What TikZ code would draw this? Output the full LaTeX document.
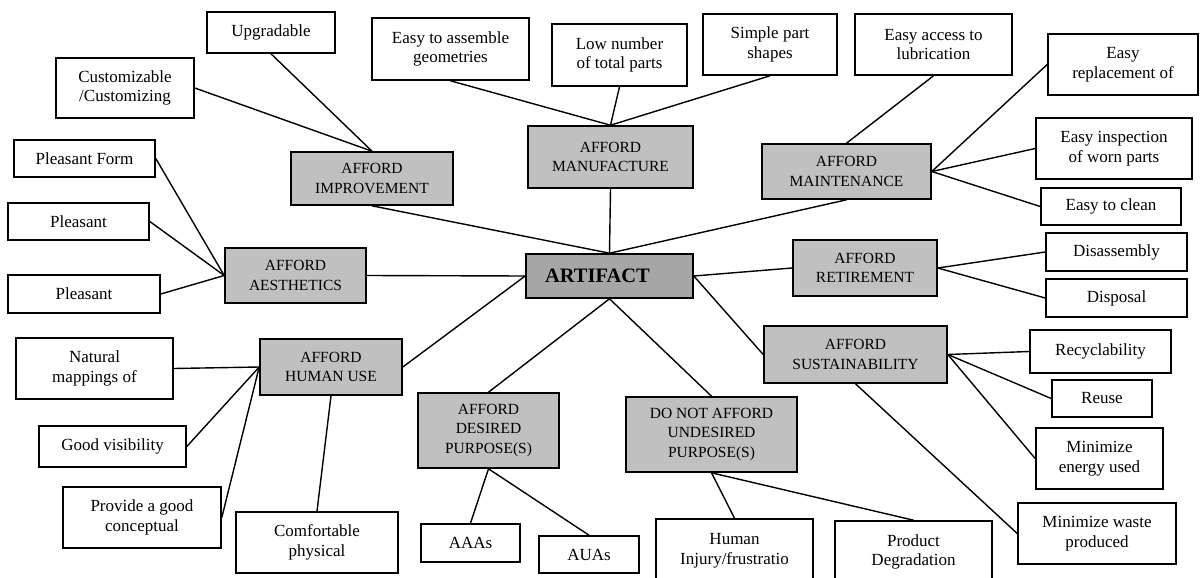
\documentclass[tikz,border=0pt]{standalone}
\usepackage{fontspec}
\setmainfont{Liberation Serif}
\definecolor{boxgray}{HTML}{C0C0C0}
\definecolor{artgray}{HTML}{A6A6A6}
\tikzset{
  sz/.style 2 args={minimum width=#1pt, minimum height=#2pt},
  wbox/.style={draw=black, line width=1.6pt, fill=white, inner sep=0pt, align=center,
    font=\fontsize{17}{19.5}\selectfont},
  gbox/.style={draw=black, line width=1.6pt, fill=boxgray, inner sep=0pt, align=center,
    font=\fontsize{15.5}{19.5}\selectfont},
  abox/.style={draw=black, line width=1.6pt, fill=artgray, inner sep=0pt, align=center,
    font=\fontsize{20.5}{22}\selectfont\bfseries},
  link/.style={line width=1.4pt, draw=black},
}
\begin{document}
\begin{tikzpicture}[x=1pt,y=-1pt]
\useasboundingbox (0,0) rectangle (1200,578);
\fill[white] (0,0) rectangle (1200,578);

% central node
\node[abox, sz={167}{44}] (art) at (609.5,276) {ARTIFACT\hspace{24pt}};

% gray category nodes
\node[gbox, sz={162}{53}] (impr) at (372,178.5) {AFFORD\\IMPROVEMENT};
\node[gbox, sz={165}{62}] (manu) at (610.5,157) {AFFORD\\MANUFACTURE};
\node[gbox, sz={169}{55}] (maint) at (846.5,171.5) {AFFORD\\MAINTENANCE};
\node[gbox, sz={141}{55}] (aest) at (295.5,275.5) {AFFORD\\AESTHETICS};
\node[gbox, sz={144}{56}] (retire) at (865,268) {AFFORD\\RETIREMENT};
\node[gbox, sz={183}{57}] (sust) at (855.5,354.5) {AFFORD\\SUSTAINABILITY};
\node[gbox, sz={142}{56}] (human) at (331,367) {AFFORD\\HUMAN USE};
\node[gbox, sz={141}{75}] (desired) at (488.5,430.5) {AFFORD\\DESIRED\\PURPOSE(S)};
\node[gbox, sz={171}{75}] (donot) at (711.5,434.5) {DO NOT AFFORD\\UNDESIRED\\PURPOSE(S)};

% white leaf nodes
\node[wbox, sz={128}{41}] (upg) at (271,32.5) {Upgradable};
\node[wbox, sz={138}{60}] (cust) at (125,88) {Customizable\\/Customizing};
\node[wbox, sz={141}{37}] (pform) at (84.5,158.5) {Pleasant Form};
\node[wbox, sz={141}{37}] (pl1) at (78.5,221.5) {Pleasant};
\node[wbox, sz={152}{38}] (pl2) at (84,294) {Pleasant};
\node[wbox, sz={157}{61}] (nat) at (94.5,368.5) {Natural\\mappings of};
\node[wbox, sz={147}{41}] (vis) at (112.5,446.5) {Good visibility};
\node[wbox, sz={158}{61}] (prov) at (142,517.5) {Provide a good\\conceptual};
\node[wbox, sz={162}{61}] (comf) at (317,542.5) {Comfortable\\physical};
\node[wbox, sz={99}{38}] (aaa) at (470.5,543) {AAAs};
\node[wbox, sz={100}{37}] (aua) at (589,554.5) {AUAs};
\node[wbox, sz={157}{64}] (hum) at (734.5,551) {Human\\Injury/frustratio};
\node[wbox, sz={157}{62}] (prod) at (913.5,552) {Product\\Degradation};
\node[wbox, sz={158}{61}] (waste) at (1097,533.5) {Minimize waste\\produced};
\node[wbox, sz={127}{61}] (energy) at (1099.5,458.5) {Minimize\\energy used};
\node[wbox, sz={100}{37}] (reuse) at (1102,398.5) {Reuse};
\node[wbox, sz={141}{43}] (recyc) at (1100.5,351.5) {Recyclability};
\node[wbox, sz={141}{38}] (disp) at (1116.5,298) {Disposal};
\node[wbox, sz={141}{38}] (disas) at (1116.5,252) {Disassembly};
\node[wbox, sz={140}{37}] (clean) at (1111,206.5) {Easy to clean};
\node[wbox, sz={156}{61}] (insp) at (1114,148.5) {Easy inspection\\of worn parts};
\node[wbox, sz={150}{61}] (repl) at (1123,64.5) {Easy\\replacement of};
\node[wbox, sz={157}{61}] (lub) at (933.5,44.5) {Easy access to\\lubrication};
\node[wbox, sz={134}{61}] (simple) at (770,44.5) {Simple part\\shapes};
\node[wbox, sz={135}{62}] (low) at (619.5,55) {Low number\\of total parts};
\node[wbox, sz={157}{62}] (assem) at (450.5,49) {Easy to assemble\\geometries};

% connectors from the central node
\draw[link] (art.north) -- (impr.south);
\draw[link] (art.north) -- (manu.south);
\draw[link] (art.north) -- (maint.south);
\draw[link] (art.west) -- (aest.east);
\draw[link] (art.west) -- (human.east);
\draw[link] (art.east) -- (retire.west);
\draw[link] (art.east) -- (sust.west);
\draw[link] (art.south) -- (desired.north);
\draw[link] (art.south) -- (donot.north);

% improvement
\draw[link] (impr.north) -- (upg.south);
\draw[link] (impr.north) -- (cust.east);
% manufacture
\draw[link] (manu.north) -- (assem.south);
\draw[link] (manu.north) -- (low.south);
\draw[link] (manu.north) -- (simple.south);
% maintenance
\draw[link] (maint.north) -- (lub.south);
\draw[link] (maint.east) -- (repl.west);
\draw[link] (maint.east) -- (insp.west);
\draw[link] (maint.east) -- (clean.west);
% aesthetics
\draw[link] (aest.west) -- (pform.east);
\draw[link] (aest.west) -- (pl1.east);
\draw[link] (aest.west) -- (pl2.east);
% retirement
\draw[link] (retire.east) -- (disas.west);
\draw[link] (retire.east) -- (disp.west);
% sustainability
\draw[link] (sust.east) -- (recyc.west);
\draw[link] (sust.east) -- (reuse.west);
\draw[link] (sust.east) -- (energy.west);
\draw[link] (sust.south) -- (waste.west);
% human use
\draw[link] (human.west) -- (nat.east);
\draw[link] (human.west) -- (vis.east);
\draw[link] (human.west) -- (prov.east);
\draw[link] (human.south) -- (comf.north);
% purposes
\draw[link] (desired.south) -- (aaa.north);
\draw[link] (desired.south) -- (aua.north);
\draw[link] (donot.south) -- (hum.north);
\draw[link] (donot.south) -- (prod.north);
\end{tikzpicture}
\end{document}
